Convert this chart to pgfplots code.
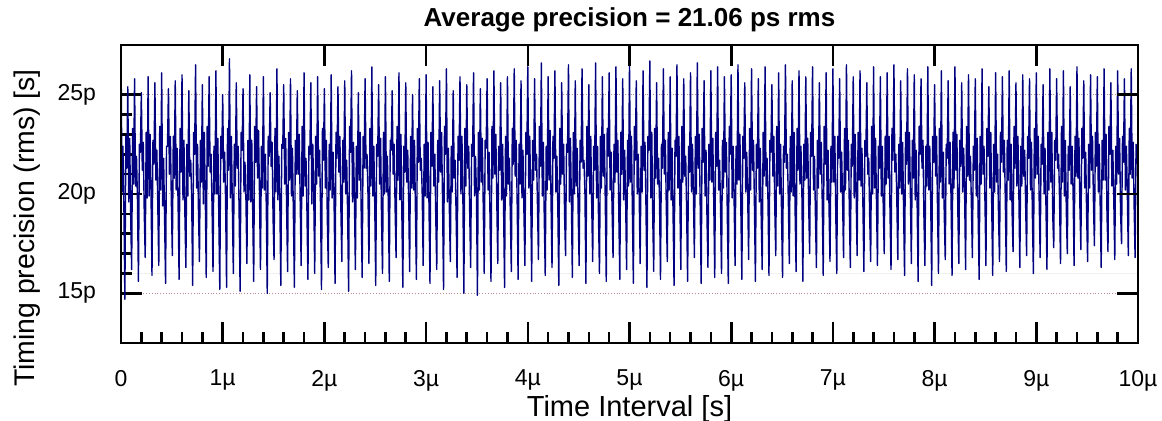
\documentclass[border=0pt]{standalone}
\usepackage{fontspec}
\setmainfont{Liberation Sans}
\usepackage{pgfplots}
\usepackage{pgfplotstable}
\pgfplotsset{compat=1.18}
\definecolor{trace}{RGB}{0,0,128}
\definecolor{refgrid}{RGB}{190,140,150}

% timing precision in ps, one sample per row, 7 samples per oscillation period,
% 150 periods over 10 us (one line below = one period)
\pgfplotstableread[row sep=\\]{
y\\
27.6\\20.1\\22.4\\19.3\\14.7\\22.9\\21.3\\
25.4\\19.6\\22.8\\18.9\\16.2\\23.3\\20.5\\
25.8\\20.4\\21.9\\19.7\\15.6\\22.5\\22.1\\
25.1\\21.2\\22.6\\19.1\\16.8\\23.1\\19.8\\
25.9\\19.9\\23.0\\20.0\\15.9\\22.7\\21.5\\
25.6\\20.7\\22.2\\19.4\\16.4\\23.4\\20.2\\
26.1\\19.4\\21.8\\18.8\\15.5\\22.4\\22.4\\
25.3\\21.0\\22.9\\19.6\\16.9\\22.9\\20.8\\
25.7\\20.2\\22.3\\19.3\\15.7\\23.3\\21.1\\
26.0\\19.7\\22.7\\18.9\\16.3\\22.5\\19.9\\
25.2\\20.9\\21.7\\19.7\\15.4\\23.1\\22.0\\
26.5\\20.3\\22.5\\19.1\\16.6\\22.7\\20.6\\
25.5\\19.5\\23.1\\20.0\\15.8\\23.4\\21.4\\
25.9\\21.1\\22.0\\19.4\\16.1\\22.4\\20.0\\
26.2\\20.0\\22.8\\18.8\\15.2\\22.9\\21.8\\
25.0\\20.6\\22.1\\19.6\\15.3\\23.3\\21.2\\
26.8\\19.8\\22.9\\19.3\\16.0\\22.5\\20.4\\
25.6\\21.3\\22.4\\18.9\\15.1\\23.1\\22.2\\
25.3\\20.1\\21.6\\19.7\\16.5\\22.7\\19.7\\
26.0\\19.6\\22.7\\19.1\\15.6\\23.4\\21.6\\
25.4\\20.8\\23.2\\20.0\\16.2\\22.4\\20.3\\
25.9\\20.2\\22.0\\19.4\\15.0\\22.9\\21.9\\
25.1\\21.4\\22.6\\18.8\\16.7\\23.3\\20.1\\
26.3\\19.7\\21.9\\19.6\\15.4\\22.5\\22.3\\
25.5\\20.5\\22.8\\19.3\\16.1\\23.1\\20.7\\
25.8\\19.9\\22.3\\18.9\\15.3\\22.7\\21.0\\
25.2\\21.0\\23.0\\19.7\\16.4\\23.4\\19.9\\
26.1\\20.4\\21.8\\19.1\\15.7\\22.4\\22.0\\
25.6\\19.5\\22.5\\20.0\\16.0\\22.9\\20.5\\
25.9\\20.9\\22.2\\19.4\\15.2\\23.3\\21.7\\
25.3\\20.3\\22.7\\18.8\\16.3\\22.5\\20.2\\
26.0\\19.8\\22.1\\19.6\\15.5\\23.1\\21.8\\
25.4\\21.1\\22.9\\19.3\\16.6\\22.7\\20.6\\
25.7\\20.0\\21.7\\18.9\\15.1\\23.4\\22.1\\
26.2\\19.6\\22.6\\19.7\\16.2\\22.4\\19.8\\
25.1\\20.7\\23.1\\19.1\\15.8\\22.9\\21.3\\
25.8\\21.3\\22.0\\20.0\\16.5\\23.3\\20.4\\
26.4\\19.9\\22.4\\19.4\\15.4\\22.5\\21.9\\
25.5\\20.5\\22.8\\18.8\\16.0\\23.1\\20.0\\
25.9\\20.1\\21.9\\19.6\\15.6\\22.7\\22.2\\
25.2\\21.0\\22.5\\19.3\\16.8\\23.4\\20.7\\
26.1\\19.7\\23.0\\18.9\\15.3\\22.4\\21.1\\
25.6\\20.6\\22.2\\19.7\\16.1\\22.9\\20.3\\
25.0\\20.2\\22.7\\19.1\\15.7\\23.3\\21.6\\
25.8\\21.2\\21.8\\20.0\\16.4\\22.5\\19.9\\
26.0\\19.8\\22.6\\19.4\\15.5\\23.1\\21.4\\
25.4\\20.4\\22.0\\18.8\\16.2\\22.7\\20.6\\
25.7\\21.1\\23.1\\19.6\\15.2\\23.4\\22.0\\
26.3\\19.6\\22.3\\19.3\\16.6\\22.4\\20.1\\
25.2\\20.8\\21.7\\18.9\\15.8\\22.9\\21.7\\
25.9\\20.0\\22.9\\19.7\\15.0\\23.3\\20.4\\
25.5\\21.3\\22.4\\19.1\\16.3\\22.5\\21.9\\
26.1\\19.9\\21.9\\20.0\\14.9\\23.1\\20.2\\
25.3\\20.6\\22.8\\19.4\\16.0\\22.7\\22.3\\
25.8\\20.2\\22.1\\18.8\\15.6\\23.4\\20.8\\
26.2\\21.0\\23.0\\19.6\\16.5\\22.4\\21.2\\
25.6\\19.7\\22.5\\19.3\\15.3\\22.9\\19.9\\
25.9\\20.5\\21.8\\18.9\\16.1\\23.3\\21.5\\
26.3\\20.9\\22.7\\19.7\\15.7\\22.5\\20.5\\
25.7\\19.8\\22.2\\19.1\\16.4\\23.1\\22.0\\
26.4\\20.3\\22.9\\20.0\\15.6\\22.7\\20.7\\
25.8\\21.2\\22.0\\19.4\\16.7\\23.4\\21.4\\
26.6\\19.9\\22.6\\18.8\\15.9\\22.4\\20.2\\
25.9\\20.7\\23.2\\19.6\\16.3\\22.9\\21.8\\
26.2\\20.1\\21.9\\19.3\\15.4\\23.3\\20.5\\
25.6\\21.0\\22.5\\18.9\\16.9\\22.5\\22.1\\
26.5\\19.6\\22.8\\19.7\\15.8\\23.1\\20.0\\
25.7\\20.4\\22.3\\19.1\\16.4\\22.7\\21.6\\
26.3\\21.3\\21.7\\20.0\\15.5\\23.4\\20.9\\
25.5\\20.0\\22.9\\19.4\\16.6\\22.4\\21.2\\
26.6\\19.8\\22.4\\18.8\\16.0\\22.9\\20.3\\
25.9\\20.9\\23.0\\19.6\\15.6\\23.3\\21.9\\
26.1\\20.2\\22.1\\19.3\\16.8\\22.5\\20.6\\
26.4\\21.1\\22.7\\18.9\\15.7\\23.1\\21.0\\
25.8\\19.7\\22.2\\19.7\\16.2\\22.7\\20.4\\
26.5\\20.6\\22.9\\19.1\\15.5\\23.4\\21.7\\
25.7\\20.0\\22.0\\20.0\\16.5\\22.4\\20.1\\
26.2\\21.2\\22.6\\19.4\\15.3\\22.9\\22.2\\
26.7\\19.8\\23.1\\18.8\\16.1\\23.3\\20.8\\
25.6\\20.5\\21.8\\19.6\\15.7\\22.5\\21.3\\
26.3\\21.0\\22.7\\19.3\\16.6\\23.1\\20.2\\
25.9\\19.7\\22.3\\18.9\\15.4\\22.7\\21.9\\
26.5\\20.3\\22.9\\19.7\\16.2\\23.4\\20.6\\
25.8\\20.9\\21.9\\19.1\\15.6\\22.4\\21.1\\
26.1\\20.1\\22.5\\20.0\\16.8\\22.9\\20.0\\
26.6\\21.3\\23.0\\19.4\\15.5\\23.3\\21.6\\
25.7\\19.9\\22.2\\18.8\\16.3\\22.5\\20.7\\
26.2\\20.6\\22.8\\19.6\\15.8\\23.1\\21.4\\
26.4\\20.2\\21.7\\19.3\\16.0\\22.7\\20.3\\
25.9\\21.1\\22.6\\18.9\\15.5\\23.4\\22.0\\
26.0\\19.8\\22.4\\19.7\\16.4\\22.4\\20.5\\
26.5\\20.7\\23.0\\19.1\\15.7\\22.9\\21.8\\
25.6\\20.1\\22.1\\20.0\\16.7\\23.3\\20.2\\
26.3\\21.2\\22.7\\19.4\\15.6\\22.5\\21.3\\
25.8\\19.6\\22.3\\18.8\\16.2\\23.1\\20.9\\
26.4\\20.4\\21.8\\19.6\\15.9\\22.7\\22.1\\
25.5\\20.9\\22.9\\19.3\\16.9\\23.4\\20.4\\
26.1\\20.0\\22.5\\18.9\\15.8\\22.4\\21.6\\
26.5\\21.3\\22.0\\19.7\\16.5\\22.9\\20.1\\
25.7\\19.9\\23.1\\19.1\\16.1\\23.3\\21.2\\
26.2\\20.5\\22.4\\20.0\\15.6\\22.5\\20.7\\
25.9\\20.8\\22.8\\19.4\\17.0\\23.1\\21.9\\
26.4\\20.2\\21.9\\18.8\\16.3\\22.7\\20.3\\
25.6\\21.0\\22.6\\19.6\\15.9\\23.4\\21.5\\
26.1\\19.7\\22.2\\19.3\\16.6\\22.4\\20.6\\
26.3\\20.6\\22.9\\18.9\\16.0\\22.9\\21.8\\
25.8\\20.1\\22.1\\19.7\\16.8\\23.3\\20.2\\
26.5\\21.2\\22.7\\19.1\\16.3\\22.5\\21.4\\
25.9\\19.8\\23.0\\20.0\\16.9\\23.1\\20.7\\
26.2\\20.4\\22.3\\19.4\\16.1\\22.7\\21.9\\
25.6\\21.0\\21.8\\18.8\\16.6\\23.4\\20.0\\
26.4\\20.3\\22.8\\19.6\\16.4\\22.4\\21.3\\
25.9\\19.9\\22.4\\19.3\\17.0\\22.9\\20.5\\
26.1\\20.8\\22.9\\18.9\\16.2\\23.3\\21.7\\
26.5\\21.1\\22.0\\19.7\\16.7\\22.5\\20.3\\
25.7\\20.0\\22.6\\19.1\\15.9\\23.1\\21.5\\
26.3\\20.5\\23.1\\20.0\\16.5\\22.7\\20.8\\
26.0\\19.7\\22.2\\19.4\\15.6\\23.4\\22.0\\
25.8\\21.3\\22.7\\18.8\\16.4\\22.4\\20.4\\
26.4\\20.2\\22.4\\19.6\\15.4\\22.9\\21.6\\
25.5\\20.9\\22.9\\19.3\\16.0\\23.3\\20.6\\
26.2\\19.8\\22.1\\18.9\\16.7\\22.5\\21.8\\
25.7\\20.5\\22.6\\19.7\\15.9\\23.1\\20.3\\
26.4\\21.2\\23.0\\19.1\\16.5\\22.7\\21.4\\
25.6\\20.1\\22.3\\20.0\\16.2\\23.4\\20.9\\
26.0\\20.7\\21.9\\19.4\\16.8\\22.4\\21.2\\
25.8\\19.9\\22.8\\18.8\\15.7\\22.9\\20.5\\
26.3\\21.0\\22.4\\19.6\\16.4\\23.3\\21.9\\
25.4\\20.3\\23.1\\19.3\\15.9\\22.5\\20.1\\
26.1\\20.6\\22.0\\18.9\\16.6\\23.1\\21.6\\
25.9\\21.1\\22.7\\19.7\\16.1\\22.7\\20.7\\
26.2\\19.7\\22.5\\19.1\\17.1\\23.4\\21.3\\
25.6\\20.4\\22.9\\20.0\\16.3\\22.4\\20.4\\
26.0\\20.9\\22.2\\19.4\\16.9\\22.9\\21.8\\
25.8\\20.2\\22.6\\18.8\\16.0\\23.3\\20.8\\
26.1\\21.0\\22.9\\19.6\\16.8\\22.5\\21.5\\
25.5\\20.0\\22.3\\19.3\\16.2\\23.1\\20.2\\
26.3\\20.6\\23.1\\18.9\\17.3\\22.7\\21.7\\
25.8\\21.3\\22.0\\19.7\\16.5\\23.4\\20.6\\
26.2\\19.9\\22.7\\19.1\\17.0\\22.4\\21.2\\
25.4\\20.5\\22.4\\20.0\\16.4\\22.9\\20.9\\
26.4\\20.8\\22.8\\19.4\\17.2\\23.3\\21.8\\
25.7\\20.3\\22.1\\18.8\\16.6\\22.5\\20.3\\
26.0\\21.2\\22.9\\19.6\\17.4\\23.1\\21.4\\
25.9\\20.1\\22.5\\19.3\\16.3\\22.7\\20.7\\
26.3\\20.7\\23.0\\18.9\\17.1\\23.4\\22.0\\
25.6\\20.4\\22.2\\19.7\\16.7\\22.4\\20.5\\
26.2\\21.0\\22.8\\19.1\\17.5\\22.9\\21.6\\
25.8\\20.2\\22.4\\20.0\\16.9\\23.3\\21.0\\
26.3\\20.8\\22.6\\19.4\\16.8\\22.5\\21.5\\
}\precision

\begin{document}
\begin{tikzpicture}
\pgfplotsset{
  refaxis/.style={
    scale only axis,
    width=508.5pt, height=149pt,
    xmin=0, xmax=1050,
    ymin=12.5, ymax=27.5,
    xtick={0,105,...,1050},
    ytick={15,20,25},
    axis line style={black, line width=1.3pt},
    every tick/.style={black, line width=1.3pt},
    major tick length=10.5pt,
    minor tick length=5.5pt,
  },
}
\begin{axis}[
  refaxis,
  tick pos=left,
  minor x tick num=4,
  minor y tick num=4,
  xticklabels={0,1µ,2µ,3µ,4µ,5µ,6µ,7µ,8µ,9µ,10µ},
  yticklabels={15p,20p,25p},
  tick label style={font=\fontsize{11.5}{13}\selectfont},
  xticklabel shift=10pt,
  yticklabel shift=9pt,
  ymajorgrids, yminorgrids,
  major grid style={refgrid, densely dotted, line width=0.5pt},
  minor grid style={black!6, line width=0.5pt},
  xlabel={Time Interval [s]},
  ylabel={Timing precision (rms) [s]},
  xlabel style={font=\fontsize{14.5}{16}\selectfont,
    at={(axis description cs:0.5,-0.222)}, anchor=center},
  ylabel style={font=\fontsize{14.2}{16}\selectfont,
    at={(axis description cs:-0.0925,0.386)}, anchor=center},
  title={Average precision = 21.06 ps rms},
  title style={font=\fontsize{13}{15}\selectfont\bfseries,
    at={(axis description cs:0.5,1.0906)}, anchor=center, yshift=-7pt},
]
\addplot[trace, line width=0.7pt, line join=round] table[x expr=\coordindex, y=y] {\precision};
\end{axis}
\begin{axis}[
  refaxis,
  tick pos=right,
  xticklabels={}, yticklabels={},
  minor tick num=0,
]
\end{axis}
\pgfresetboundingbox
\path ([xshift=-60.5pt,yshift=-39pt]current axis.south west)
  rectangle ([xshift=12pt,yshift=22.5pt]current axis.north east);
\end{tikzpicture}
\end{document}
